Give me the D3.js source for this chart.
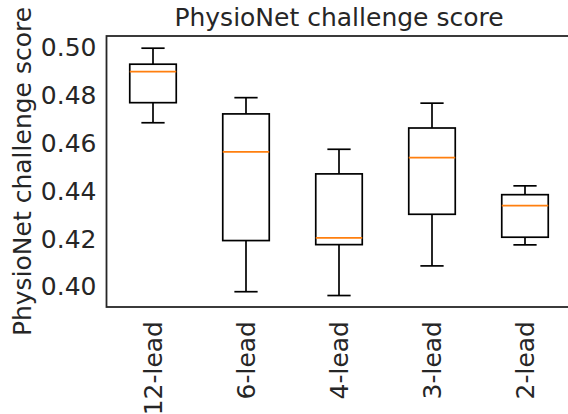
<!DOCTYPE html>
<html>
  <head>
    <script src="https://d3js.org/d3.v7.min.js"></script>
    <style>
      body { margin: 0; background: #fff; }
      text { font-family: "DejaVu Sans", sans-serif; fill: #262626; }
      .box { fill: none; stroke: #000; stroke-width: 1.7; }
      .median { stroke: #ff7f0e; stroke-width: 1.7; }
      .frame { fill: none; stroke: #262626; stroke-width: 1.8; }
    </style>
  </head>
  <body>
    <svg id="chart" width="568" height="414"></svg>

    <script>
      // values
      var categories = ["12-lead", "6-lead", "4-lead", "3-lead", "2-lead"];
      var whiskerLow  = [0.4687, 0.3980, 0.3964, 0.4088, 0.4176];
      var q1          = [0.4771, 0.4194, 0.4177, 0.4304, 0.4208];
      var median      = [0.4901, 0.4565, 0.4205, 0.4541, 0.4340];
      var q3          = [0.4932, 0.4724, 0.4473, 0.4665, 0.4386];
      var whiskerHigh = [0.4999, 0.4792, 0.4576, 0.4769, 0.4423];
      var yTicks = [0.40, 0.42, 0.44, 0.46, 0.48, 0.50];

      var plotLeft = 106.5, plotRight = 571.5, plotTop = 36, plotBottom = 307;
      var fontSize = 25;

      var svg = d3.select("#chart");

      var x = d3.scaleBand()
        .domain(categories)
        .range([plotLeft, plotRight])
        .padding(0);

      var y = d3.scaleLinear()
        .domain([0.3916, 0.505])
        .range([plotBottom, plotTop]);

      var bw = x.bandwidth();

      var boxes = categories.map((c, i) => ({
        cat: c, lo: whiskerLow[i], q1: q1[i], med: median[i], q3: q3[i], hi: whiskerHigh[i]
      }));

      var g = svg.selectAll("g.boxplot")
        .data(boxes)
        .enter()
        .append("g")
          .attr("class", "boxplot")
          .attr("transform", d => `translate(${x(d.cat) + bw / 2},0)`);

      // whiskers
      g.append("line").attr("class", "box")
        .attr("x1", 0).attr("x2", 0)
        .attr("y1", d => y(d.q3)).attr("y2", d => y(d.hi));
      g.append("line").attr("class", "box")
        .attr("x1", 0).attr("x2", 0)
        .attr("y1", d => y(d.q1)).attr("y2", d => y(d.lo));
      // caps
      g.append("line").attr("class", "box")
        .attr("x1", -bw / 8).attr("x2", bw / 8)
        .attr("y1", d => y(d.hi)).attr("y2", d => y(d.hi));
      g.append("line").attr("class", "box")
        .attr("x1", -bw / 8).attr("x2", bw / 8)
        .attr("y1", d => y(d.lo)).attr("y2", d => y(d.lo));
      // box
      g.append("rect").attr("class", "box")
        .attr("x", -bw / 4)
        .attr("width", bw / 2)
        .attr("y", d => y(d.q3))
        .attr("height", d => y(d.q1) - y(d.q3));
      // median
      g.append("line").attr("class", "median")
        .attr("x1", -bw / 4).attr("x2", bw / 4)
        .attr("y1", d => y(d.med)).attr("y2", d => y(d.med));

      // frame
      svg.append("rect")
        .attr("class", "frame")
        .attr("x", plotLeft).attr("y", plotTop)
        .attr("width", plotRight - plotLeft).attr("height", plotBottom - plotTop);

      // y axis
      var yAxis = svg.append("g")
        .attr("transform", `translate(${plotLeft},0)`)
        .call(d3.axisLeft(y).tickValues(yTicks).tickFormat(d3.format(".2f")).tickSize(0).tickPadding(10));
      yAxis.select(".domain").remove();
      yAxis.selectAll("text")
        .style("font-size", fontSize + "px")
        .style("font-family", "DejaVu Sans")
        .attr("fill", "#262626");

      // x tick labels, rotated
      svg.selectAll("text.xlabel")
        .data(categories)
        .enter()
        .append("text")
          .attr("class", "xlabel")
          .attr("transform", d => `translate(${x(d) + bw / 2},${plotBottom + 14}) rotate(-90)`)
          .attr("text-anchor", "end")
          .attr("dy", "0.35em")
          .style("font-size", fontSize + "px")
          .text(d => d);

      // title
      svg.append("text")
        .attr("x", (plotLeft + plotRight) / 2)
        .attr("y", 26)
        .attr("text-anchor", "middle")
        .style("font-size", fontSize + "px")
        .text("PhysioNet challenge score");

      // y label
      svg.append("text")
        .attr("transform", `translate(31,${(plotTop + plotBottom) / 2}) rotate(-90)`)
        .attr("text-anchor", "middle")
        .style("font-size", fontSize + "px")
        .text("PhysioNet challenge score");
    </script>
  </body>
</html>
